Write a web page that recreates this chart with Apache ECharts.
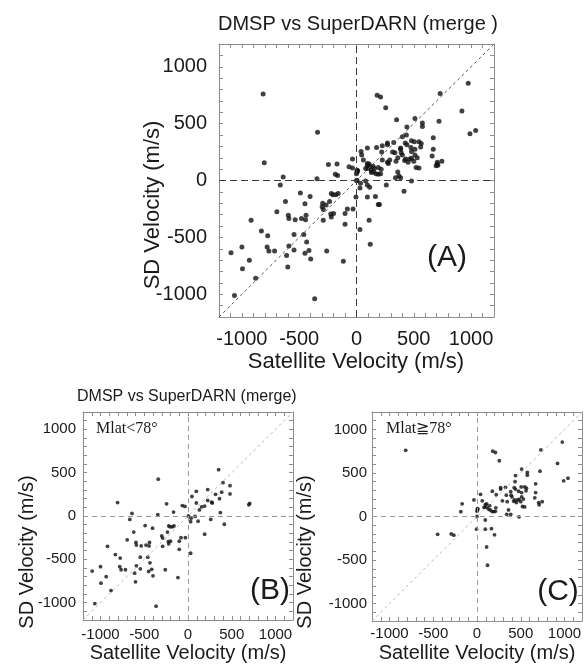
<!DOCTYPE html>
<html><head><meta charset="utf-8">
<script src="https://cdn.jsdelivr.net/npm/echarts@6/dist/echarts.min.js"></script>
<style>html,body{margin:0;padding:0;background:#fff}#c{width:585px;height:664px}</style>
</head><body><div id="c"></div>
<script>
// Mlat < 78° : [satellite velocity, SD velocity] (m/s)
const lowLatPoints = [
  [-340,425],[-805,155],[-245,140],[-65,120],[-35,110],[-640,30],[-345,15],[-165,45],[-665,-40],
  [350,535],[400,385],[480,350],[480,255],[385,275],[315,250],[360,200],[225,305],[270,160],[278,150],
  [225,180],[95,285],[45,225],[95,150],[130,70],[155,105],[190,115],[5,0],[35,-25],[30,-65],[80,-5],
  [115,-60],[260,-40],[370,40],[415,-95],[190,-210],[30,-430],[695,130],[705,145],
  [-490,-110],[-220,-115],[-205,-125],[-180,-125],[-160,-115],[-405,-140],[-620,-185],[-695,-275],
  [-595,-305],[-590,-335],[-535,-345],[-480,-335],[-440,-305],[-445,-345],[-300,-230],[-290,-255],
  [-235,-185],[-220,-320],[-290,-350],[-225,-295],[-200,-290],[-100,-290],[-80,-250],[-30,-250],
  [-100,-385],[-115,-710],[-365,-1040],[-260,-620],[-920,-350],[-830,-445],[-775,-485],[-780,-585],
  [-765,-620],[-715,-620],[-1000,-585],[-935,-700],[-1095,-635],[-995,-775],[-880,-860],[-1065,-1010],
  [-610,-660],[-600,-760],[-590,-575],[-545,-610],[-460,-475],[-435,-540],[-415,-615],[-450,-640],
  [-400,-690],[-545,-475]
];
// Mlat >= 78°
const highLatPoints = [
  [-815,760],[-450,-205],[-295,-200],[-265,-215],[-170,145],[-185,55],[-35,190],[0,60],[10,85],[0,0],
  [-5,-145],[40,255],[180,750],[210,735],[255,640],[510,545],[730,765],[975,855],[920,610],[990,410],
  [1040,440],[720,520],[575,505],[575,475],[440,470],[435,400],[505,340],[475,290],[545,340],[560,295],
  [425,330],[440,315],[385,285],[325,335],[270,330],[270,315],[220,250],[175,290],[335,245],[390,245],
  [400,225],[465,190],[480,195],[450,160],[500,170],[510,225],[530,200],[420,175],[430,190],[510,275],
  [565,325],[670,375],[670,275],[660,215],[705,160],[710,135],[745,170],[520,115],[545,110],[345,170],
  [290,180],[340,25],[385,25],[360,75],[480,-5],[60,180],[95,135],[110,145],[145,125],[80,105],
  [100,105],[130,85],[150,75],[170,60],[190,55],[210,60],[5,90],[5,75],[95,-40],[95,-145],
  [165,-140],[200,-210],[110,-350],[120,-560],[215,100],[120,120]
];
const allPoints = lowLatPoints.concat(highLatPoints);
const tickLabels = [-1000,-500,0,500,1000];
const axisMin = -1200, axisMax = 1200, tickStep = 100;

const FONT = "'Liberation Sans', Arial, Helvetica, sans-serif";
const AXC = '#8c8c8c';

const grids = [
  {left:219, top:44, width:275, height:273},
  {left:83, top:412, width:210, height:208},
  {left:372, top:412, width:211, height:209}
];
const labelSizes = [20, 15, 15];
const labelMargins = [12, 7, 5];

const xAxes = [], yAxes = [];
grids.forEach((g, i) => {
  const common = {
    type:'value', gridIndex:i, min:axisMin, max:axisMax, interval:tickStep,
    splitLine:{show:false},
    axisLine:{show:true, onZero:false, lineStyle:{color:AXC, width:1}},
    axisTick:{show:true, inside:true, length:4, lineStyle:{color:AXC, width:1}}
  };
  const lab = {
    show:true, color:'#1a1a1a', fontSize:labelSizes[i], fontFamily:FONT, margin:labelMargins[i],
    formatter: v => tickLabels.indexOf(Math.round(v)) >= 0 ? String(Math.round(v)) : ''
  };
  xAxes.push(Object.assign({}, common, {position:'bottom', axisLabel:lab}));
  xAxes.push(Object.assign({}, common, {position:'top', axisLabel:{show:false}}));
  yAxes.push(Object.assign({}, common, {position:'left', axisLabel:lab}));
  yAxes.push(Object.assign({}, common, {position:'right', axisLabel:{show:false}}));
});

const lineStyles = [
  {zero:{type:[7,4], color:'#3a3a3a', width:1}, diag:{type:[3,3], color:'#555', width:1}},
  {zero:{type:[5,4], color:'#999', width:1}, diag:{type:[3,3], color:'#bbb', width:1}},
  {zero:{type:[5,4], color:'#999', width:1}, diag:{type:[3,3], color:'#bbb', width:1}}
];
const datasets = [allPoints, lowLatPoints, highLatPoints];
const sizes = [5, 3.8, 3.8];

const series = datasets.map((d, i) => ({
  type:'scatter', xAxisIndex:i*2, yAxisIndex:i*2, data:d, symbolSize:sizes[i],
  itemStyle:{color:'#111'}, animation:false, silent:true,
  markLine:{
    silent:true, symbol:'none', animation:false, label:{show:false},
    data:[
      {xAxis:0, lineStyle:lineStyles[i].zero},
      {yAxis:0, lineStyle:lineStyles[i].zero},
      [{coord:[axisMin,axisMin], lineStyle:lineStyles[i].diag},{coord:[axisMax,axisMax]}]
    ]
  }
}));

function txt(t, x, y, size, opts) {
  opts = opts || {};
  return {
    type:'text', x:x, y:y, rotation:opts.rot || 0, silent:true,
    style:{text:t, fill:'#1a1a1a', fontSize:size, fontFamily:opts.family || FONT,
      fontWeight:opts.weight || 'normal',
      align:opts.align || 'center', verticalAlign:'middle'}
  };
}

const graphic = [
  txt('DMSP vs SuperDARN (merge )', 358, 24, 20),
  txt('SD Velocity (m/s)', 153, 205, 22, {rot:Math.PI/2}),
  txt('Satellite Velocity (m/s)', 356, 362, 22),
  txt('(A)', 447, 258, 30, {family:"'Liberation Sans Narrow', 'Liberation Sans', sans-serif"}),
  txt('DMSP vs SuperDARN (merge)', 77, 397, 16, {align:'left'}),
  txt('SD Velocity (m/s)', 27, 552, 20, {rot:Math.PI/2}),
  txt('Satellite Velocity (m/s)', 188, 653, 20),
  txt('(B)', 270, 591, 30, {family:"'Liberation Sans Narrow', 'Liberation Sans', sans-serif"}),
  txt('Mlat<78°', 96, 429, 16, {align:'left', family:"'Liberation Serif', serif"}),
  txt('SD Velocity (m/s)', 305, 552, 20, {rot:Math.PI/2}),
  txt('Satellite Velocity (m/s)', 477, 653, 20),
  txt('(C)', 558, 592, 30, {family:"'Liberation Sans Narrow', 'Liberation Sans', sans-serif"}),
  txt('Mlat≧78°', 386, 429, 16, {align:'left', family:"'Liberation Serif', serif"})
];

const chart = echarts.init(document.getElementById('c'), null, {renderer:'canvas'});
chart.setOption({
  backgroundColor:'#fff', animation:false,
  grid:grids, xAxis:xAxes, yAxis:yAxes, series:series, graphic:graphic
});
</script></body></html>
